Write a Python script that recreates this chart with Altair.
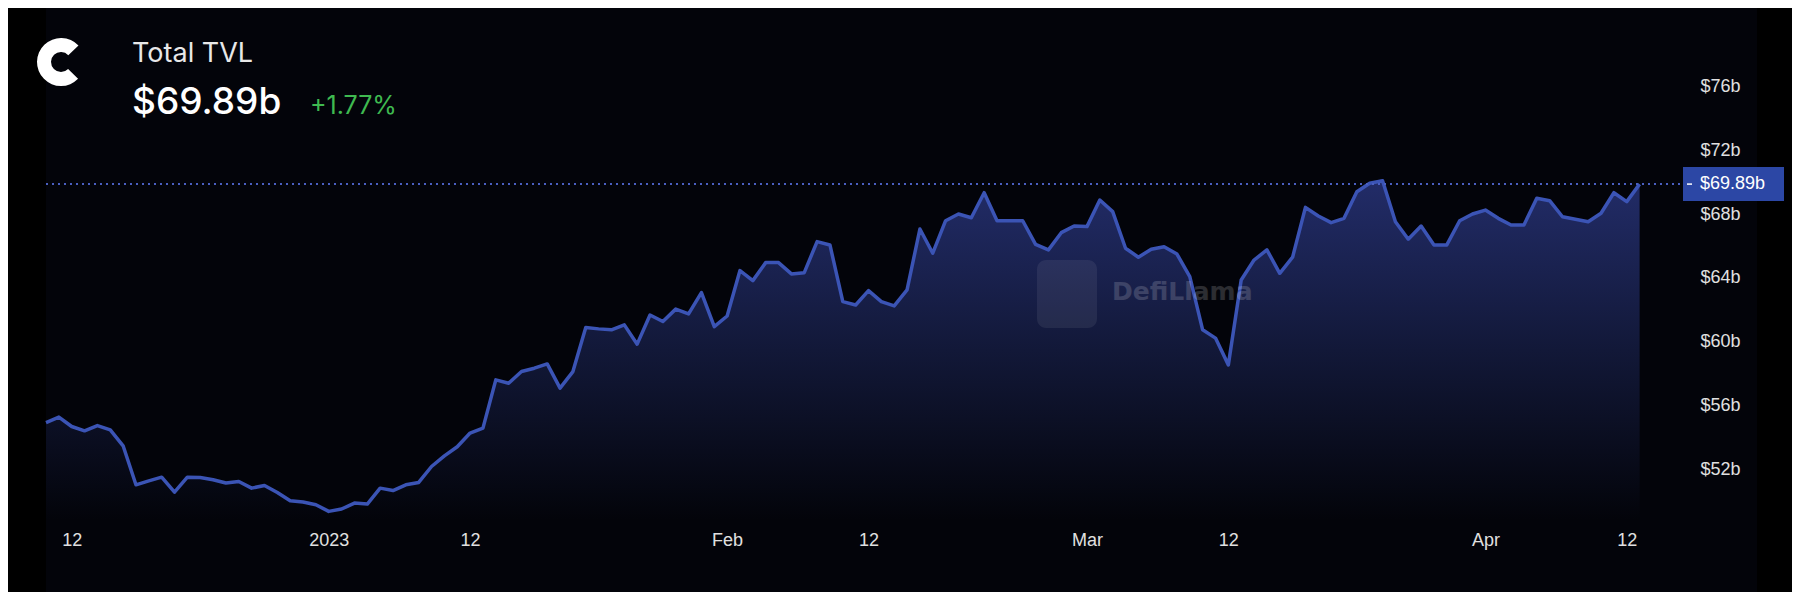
import altair as alt
import pandas as pd

# ---- data, daily TVL in $b ----
DEC = [54.92, 55.26, 54.67, 54.40, 54.73, 54.46, 53.46, 51.01, 51.26, 51.49, 50.55,
       51.49, 51.47, 51.33, 51.12, 51.22, 50.80, 50.97, 50.53, 50.01, 49.93, 49.76]  # Dec 10-31
JAN = [49.34, 49.49, 49.86, 49.80, 50.80, 50.65, 51.01, 51.16, 52.16, 52.83, 53.40,
       54.26, 54.57, 57.60, 57.39, 58.12, 58.33, 58.60, 57.08, 58.12, 60.88, 60.80,
       60.74, 61.05, 59.84, 61.67, 61.26, 62.04, 61.74, 63.08, 60.94]
FEB = [61.61, 64.46, 63.83, 64.96, 64.96, 64.25, 64.33, 66.28, 66.07, 62.51, 62.30,
       63.20, 62.51, 62.24, 63.25, 67.07, 65.55, 67.59, 68.01, 67.78, 69.35, 67.59,
       67.59, 67.59, 66.11, 65.76, 66.84, 67.26]
MAR = [67.22, 68.89, 68.16, 65.86, 65.30, 65.80, 65.96, 65.50, 64.08, 60.74, 60.22,
       58.54, 63.87, 65.12, 65.76, 64.29, 65.30, 68.43, 67.89, 67.47, 67.74, 69.41,
       69.94, 70.10, 67.53, 66.43, 67.26, 66.07, 66.07, 67.59, 68.01]
APR = [68.26, 67.74, 67.32, 67.32, 69.00, 68.85, 67.84, 67.68, 67.53, 68.06, 69.35,
       68.79, 69.89]
MONTHS = [("2022-12", 10, DEC), ("2023-01", 1, JAN), ("2023-02", 1, FEB),
          ("2023-03", 1, MAR), ("2023-04", 1, APR)]

X_TICKS = ["2022-12-12", "2023-01-01", "2023-01-12", "2023-02-01", "2023-02-12",
           "2023-03-01", "2023-03-12", "2023-04-01", "2023-04-12"]
Y_TICKS = [52, 56, 60, 64, 68, 72, 76]
X_DOMAIN = ["2022-12-10", "2023-04-17"]
Y_DOMAIN = [48.8, 79.0]

TITLE = "Total TVL"
BIG = "$69.89b"
CHANGE = "+1.77%"
LAST_LABEL = "$69.89b"
WATERMARK = "DefiLlama"

dates, values = [], []
for ym, start, vals in MONTHS:
    for i, v in enumerate(vals):
        dates.append(f"{ym}-{start + i:02d}")
        values.append(v)
df = pd.DataFrame({"date": dates, "tvl": values})
LAST = values[-1]


def ms(s):
    return int(pd.Timestamp(s, tz="UTC").value // 10**6)


W, H = 1645, 481
AX_FONT = "Liberation Sans"
LBL = "#e0e0e0"
PANEL = "#03040a"

x_enc = alt.X(
    "date:T",
    scale=alt.Scale(type="utc", domain=[ms(d) for d in X_DOMAIN]),
    axis=alt.Axis(
        values=[ms(d) for d in X_TICKS],
        labelExpr="utcdate(datum.value) == 1 ? (utcmonth(datum.value) == 0 ? utcFormat(datum.value, '%Y') : utcFormat(datum.value, '%b')) : utcFormat(datum.value, '%d')",
        title=None, domain=False, ticks=False, grid=False,
        labelColor=LBL, labelFont=AX_FONT, labelFontSize=18,
        labelPadding=20, labelBaseline="middle", labelOverlap=False, labelFlush=False,
        zindex=5,
    ),
)
y_enc = alt.Y(
    "tvl:Q",
    scale=alt.Scale(domain=Y_DOMAIN, nice=False, zero=False),
    axis=alt.Axis(
        orient="right", values=Y_TICKS, labelExpr="'$' + datum.value + 'b'",
        title=None, domain=False, ticks=False, grid=False,
        labelColor=LBL, labelFont=AX_FONT, labelFontSize=18,
        labelPadding=9, labelAlign="left", labelBaseline="middle", labelOverlap=False,
        labelFlush=False, zindex=5,
    ),
)

one = pd.DataFrame({"k": [0]})
last_df = pd.DataFrame({"tvl": [LAST], "label": [LAST_LABEL]})

panel = alt.Chart(one).mark_rect(color=PANEL).encode(
    x=alt.value(0), x2=alt.value(1711), y=alt.value(-40), y2=alt.value(570)
)

area = alt.Chart(df).mark_area(
    color=alt.Gradient(
        gradient="linear",
        stops=[alt.GradientStop(color="#222c68", offset=0),
               alt.GradientStop(color="#121838", offset=0.5),
               alt.GradientStop(color=PANEL, offset=1)],
        x1=1, x2=1, y1=0, y2=1,
    )
).encode(x=x_enc, y=y_enc, y2=alt.Y2(datum=Y_DOMAIN[0]))

line = alt.Chart(df).mark_line(color="#3b54b5", strokeWidth=3.5, strokeJoin="round").encode(
    x=x_enc, y=y_enc
)

wm_box = alt.Chart(one).mark_rect(color="#ffffff", opacity=0.07, cornerRadius=9).encode(
    x=alt.value(991), x2=alt.value(1051), y=alt.value(221), y2=alt.value(289)
)
wm_text = alt.Chart(one).mark_text(
    text=WATERMARK, font="DejaVu Sans", fontWeight="bold", fontSize=25,
    color="#ffffff", opacity=0.16, align="left", baseline="middle"
).encode(x=alt.value(1066), y=alt.value(253))

price_rule = alt.Chart(last_df).mark_rule(
    color="#4a5fc0", strokeDash=[2, 4], strokeWidth=2
).encode(x=alt.value(0), x2=alt.value(1637), y=y_enc)

tag_box = alt.Chart(one).mark_rect(color="#2c47a5").encode(
    x=alt.value(1637), x2=alt.value(1738), y=alt.value(128), y2=alt.value(162)
)
tag_dash = alt.Chart(last_df).mark_rule(color="#ffffff", strokeWidth=1.5).encode(
    x=alt.value(1641), x2=alt.value(1646), y=y_enc
)
tag_text = alt.Chart(last_df).mark_text(
    font=AX_FONT, fontSize=18, color="#ffffff", align="left", baseline="middle"
).encode(x=alt.value(1654), y=y_enc, text="label:N")

logo = alt.Chart(one).mark_arc(
    radius=24, radius2=10, theta=2.35, theta2=7.1, color="#ffffff"
).encode(x=alt.value(15), y=alt.value(23))

t_title = alt.Chart(one).mark_text(
    text=TITLE, font="Inter", fontSize=27, color="#e8e8e8", align="left", baseline="alphabetic"
).encode(x=alt.value(86), y=alt.value(23))
t_big = alt.Chart(one).mark_text(
    text=BIG, font="Inter", fontSize=37, fontWeight=500, color="#ffffff", align="left",
    baseline="alphabetic"
).encode(x=alt.value(86), y=alt.value(75))
t_change = alt.Chart(one).mark_text(
    text=CHANGE, font="Inter", fontSize=25, color="#3fb950", align="left", baseline="alphabetic"
).encode(x=alt.value(264), y=alt.value(75))

chart = alt.layer(
    panel, area, line, wm_box, wm_text, price_rule, tag_box, tag_dash, tag_text,
    logo, t_title, t_big, t_change
).properties(
    width=W, height=H,
    background="#000000",
    padding={"left": 38, "top": 31, "right": 1784 - 38 - W, "bottom": 584 - 31 - H},
    autosize=alt.AutoSizeParams(type="none"),
).configure_view(stroke=None)

chart.save("out.html", embed_options={"renderer": "svg", "actions": False})
